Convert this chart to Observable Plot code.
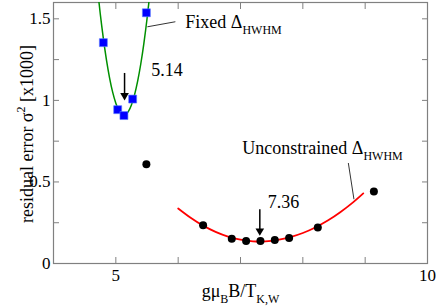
<!DOCTYPE html>
<html>
<head>
<meta charset="utf-8">
<script src="https://cdn.jsdelivr.net/npm/d3@7"></script>
<script src="https://cdn.jsdelivr.net/npm/@observablehq/plot@0.6"></script>
<style>
  html, body { margin: 0; padding: 0; background: #fff; }
  svg { display: block; }
</style>
</head>
<body>
<div id="chart"></div>
<script>
// Fixed Δ_HWHM data (blue squares)
const fixedX = [4.80, 5.03, 5.13, 5.27, 5.49];
const fixedY = [1.354, 0.943, 0.907, 1.008, 1.537];
// Fixed fit curve (green)
const fitFixedX = [4.71, 4.75, 4.80, 4.85, 4.90, 4.95, 5.00, 5.05, 5.10, 5.15, 5.20, 5.25, 5.30, 5.35, 5.40, 5.45, 5.50, 5.55];
const fitFixedY = [1.669, 1.531, 1.378, 1.247, 1.137, 1.049, 0.983, 0.938, 0.914, 0.912, 0.931, 0.972, 1.034, 1.118, 1.223, 1.350, 1.499, 1.668];
// Unconstrained data (black dots)
const freeX = [5.49, 6.40, 6.86, 7.09, 7.32, 7.55, 7.78, 8.24, 9.14];
const freeY = [0.608, 0.234, 0.152, 0.138, 0.138, 0.144, 0.157, 0.221, 0.441];
// Unconstrained fit curve (red)
const fitFreeX = [6.0, 6.2, 6.4, 6.6, 6.8, 7.0, 7.2, 7.4, 7.6, 7.8, 8.0, 8.2, 8.4, 8.6, 8.8, 8.97];
const fitFreeY = [0.337, 0.280, 0.232, 0.194, 0.165, 0.146, 0.136, 0.136, 0.145, 0.162, 0.187, 0.221, 0.263, 0.314, 0.373, 0.430];

// ticks
const xTicks = [4, 5, 6, 7, 8, 9, 10];
const xMajor = [5, 10];
const yTicks = [0, 0.25, 0.5, 0.75, 1, 1.25, 1.5];
const yMajor = [0, 0.5, 1, 1.5];

// annotations
const labels = [
  {x: 6.115, y: 1.476, text: "Fixed Δ_{HWHM}"},
  {x: 7.03, y: 0.707, text: "Unconstrained Δ_{HWHM}"}
];
const minLabels = [
  {x: 5.82, y: 1.186, text: "5.14"},
  {x: 7.69, y: 0.378, text: "7.36"}
];
const leaders = [
  {x1: 5.506, y1: 1.451, x2: 5.955, y2: 1.482},
  {x1: 8.73, y1: 0.616, x2: 8.82, y2: 0.394}
];
const arrows = [
  {x: 5.14, y1: 1.165, y2: 1.03},
  {x: 7.31, y1: 0.329, y2: 0.20}
];
const xLabel = "gμ_{B}B/T_{K,W}";
const yLabel = "residual error σ^{2} [x1000]";

const fixedData = fixedX.map((x, i) => ({x, y: fixedY[i]}));
const fitFixed = fitFixedX.map((x, i) => ({x, y: fitFixedY[i]}));
const freeData = freeX.map((x, i) => ({x, y: freeY[i]}));
const fitFree = fitFreeX.map((x, i) => ({x, y: fitFreeY[i]}));

const gray = "#808080";
const font = "Liberation Serif, Times New Roman, serif";

const chart = Plot.plot({
  width: 436,
  height: 307,
  marginLeft: 53,
  marginRight: 9,
  marginTop: 2,
  marginBottom: 44,
  style: {fontFamily: font, fontSize: "18px", color: "#000", background: "#fff"},
  x: {domain: [4, 10]},
  y: {domain: [0, 1.6]},
  marks: [
    Plot.axisX(xTicks, {anchor: "bottom", tickSize: -6, tickFormat: () => "", stroke: gray, label: null}),
    Plot.axisX(xTicks, {anchor: "top", tickSize: -6, tickFormat: () => "", stroke: gray, label: null}),
    Plot.axisX(xMajor, {anchor: "bottom", tickSize: 0, tickPadding: 5, tickFormat: d => String(d), fontSize: 17, label: null}),
    Plot.axisY(yTicks, {anchor: "left", tickSize: -6, tickFormat: () => "", stroke: gray, label: null}),
    Plot.axisY(yTicks, {anchor: "right", tickSize: -6, tickFormat: () => "", stroke: gray, label: null}),
    Plot.axisY(yMajor, {anchor: "left", tickSize: 0, tickPadding: 3, tickFormat: d => String(d), fontSize: 17, label: null}),
    Plot.frame({stroke: gray, strokeWidth: 1.2}),
    Plot.line(fitFixed, {x: "x", y: "y", stroke: "#009000", strokeWidth: 1.5, curve: "natural", clip: true}),
    Plot.line(fitFree, {x: "x", y: "y", stroke: "#ff0000", strokeWidth: 1.8, curve: "natural", clip: true}),
    Plot.dot(fixedData, {x: "x", y: "y", symbol: "square", r: 4.5, fill: "#0000ff", stroke: "#5a7dff", strokeWidth: 0.6}),
    Plot.dot(freeData, {x: "x", y: "y", r: 4, fill: "#000"}),
    Plot.link(leaders, {x1: "x1", y1: "y1", x2: "x2", y2: "y2", stroke: "#000", strokeWidth: 0.8}),
    Plot.ruleX(arrows, {x: "x", y1: "y1", y2: "y2", stroke: "#000", strokeWidth: 1.5}),
    Plot.dot(arrows, {x: "x", y: "y2", symbol: "triangle", rotate: 180, r: 3.2, fill: "#000", stroke: "none"}),
    Plot.text(labels, {x: "x", y: "y", text: "text", textAnchor: "start", lineAnchor: "middle", fontSize: 18, fill: "#000"}),
    Plot.text(minLabels, {x: "x", y: "y", text: "text", lineAnchor: "middle", fontSize: 18, fill: "#000"}),
    Plot.text([xLabel], {frameAnchor: "bottom", textAnchor: "middle", lineAnchor: "middle", dy: 28, fontSize: 18, fill: "#000"}),
    Plot.text([yLabel], {frameAnchor: "left", textAnchor: "middle", lineAnchor: "middle", rotate: -90, dx: -26, dy: 1, fontSize: 18, fill: "#000"})
  ]
});

// convert _{..} and ^{..} into tspans
d3.select(chart).selectAll("text").each(function() {
  const el = this;
  const s = el.textContent;
  if (!/[_^]\{/.test(s)) return;
  while (el.firstChild) el.removeChild(el.firstChild);
  const re = /([_^])\{([^}]*)\}/g;
  let last = 0, m, shift = 0;
  const ns = "http://www.w3.org/2000/svg";
  const add = (txt, dy, size) => {
    const t = document.createElementNS(ns, "tspan");
    t.textContent = txt;
    if (dy) t.setAttribute("dy", dy);
    if (size) t.setAttribute("font-size", size);
    el.appendChild(t);
  };
  while ((m = re.exec(s))) {
    if (m.index > last) { add(s.slice(last, m.index), shift ? -shift : null); shift = 0; }
    const d = m[1] === "_" ? 6 : -8;
    add(m[2], d - shift, 12);
    shift = d;
    last = re.lastIndex;
  }
  if (last < s.length) add(s.slice(last), shift ? -shift : null);
});

document.getElementById("chart").appendChild(chart);
</script>
</body>
</html>
